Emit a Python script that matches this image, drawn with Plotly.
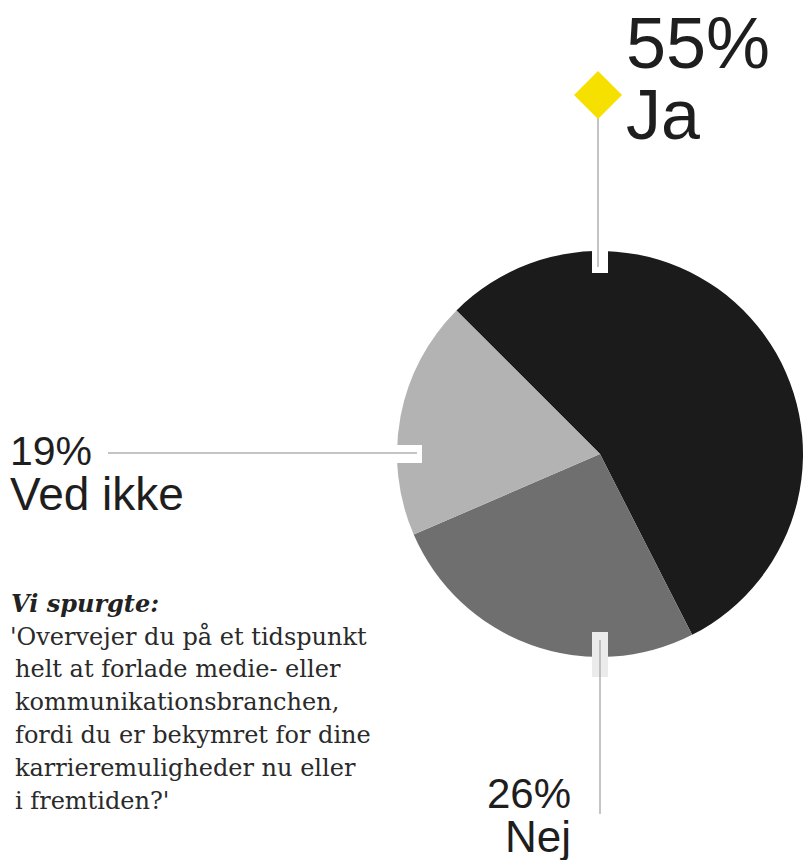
import plotly.graph_objects as go

W, H = 803, 860

labels = ["Ja", "Nej", "Ved ikke"]
values = [55, 26, 19]
pct_labels = ["55%", "26%", "19%"]
colors = ["#1b1b1b", "#6f6f6f", "#b3b3b3"]

question_title = "Vi spurgte:"
question_lines = [
    "'Overvejer du på et tidspunkt",
    "helt at forlade medie- eller",
    "kommunikationsbranchen,",
    "fordi du er bekymret for dine",
    "karrieremuligheder nu eller",
    "i fremtiden?'",
]

# pie geometry (pixels)
cx, cy, r = 600, 454, 203

fig = go.Figure()
fig.add_trace(go.Pie(
    labels=labels, values=values, sort=False, direction="clockwise",
    rotation=-45, marker=dict(colors=colors, line=dict(width=0)),
    textinfo="none", hoverinfo="label+percent", showlegend=False,
    domain=dict(x=[(cx - r) / W, min(1.0, (cx + r) / W)],
                y=[1 - (cy + r) / H, 1 - (cy - r) / H]),
))

LINE = "#b0b0b0"
shapes = []
# top notch + leader (Ja)
tx = cx - 2
shapes.append(dict(type="rect", x0=cx - 8, x1=cx + 8, y0=cy - r - 3, y1=cy - r + 22,
                   fillcolor="white", line=dict(width=0), layer="above"))
shapes.append(dict(type="line", x0=tx, x1=tx, y0=95, y1=cy - r + 16,
                   line=dict(color=LINE, width=1.5), layer="above"))
d = 24
shapes.append(dict(type="path",
                   path=f"M {tx},{95 - d} L {tx + d},95 L {tx},{95 + d} L {tx - d},95 Z",
                   fillcolor="#f6e000", line=dict(width=0), layer="above"))
# left notch + leader (Ved ikke)
shapes.append(dict(type="rect", x0=cx - r - 5, x1=cx - r + 25, y0=cy - 9, y1=cy + 9,
                   fillcolor="white", line=dict(width=0), layer="above"))
shapes.append(dict(type="line", x0=108, x1=cx - r + 20, y0=cy - 1, y1=cy - 1,
                   line=dict(color=LINE, width=1.5), layer="above"))
# bottom notch + leader (Nej)
shapes.append(dict(type="rect", x0=cx - 8, x1=cx + 8, y0=cy + r - 25, y1=cy + r + 20,
                   fillcolor="#ebebeb", line=dict(width=0), layer="above"))
shapes.append(dict(type="line", x0=cx, x1=cx, y0=cy + r - 17, y1=814,
                   line=dict(color=LINE, width=1.5), layer="above"))

SANS = "Liberation Sans"
SERIF = "DejaVu Serif"
TXT = "#1e1e1e"
ann = []
def A(text, x, y, size, xanchor="left", family=SANS, color=TXT, **kw):
    ann.append(dict(text=text, x=x, y=y, xref="x", yref="y", showarrow=False,
                    xanchor=xanchor, yanchor="middle",
                    font=dict(family=family, size=size, color=color), **kw))

A(pct_labels[0], 624, 43, 72)
A(labels[0], 624, 115, 70)
A(pct_labels[2], 8, 451, 41)
A(labels[2], 8, 494, 46)
A(pct_labels[1], 573, 793, 42, xanchor="right")
A(labels[1], 573, 836, 44, xanchor="right")

A("<b><i>" + question_title + "</i></b>", 9, 603, 24, family=SERIF, color="#222222")
for i, line in enumerate(question_lines):
    A(line, 8 if i == 0 else 13, 636 + 33 * i, 24, family=SERIF, color="#2a2a2a")

fig.update_layout(
    width=W, height=H, margin=dict(l=0, r=0, t=0, b=0),
    paper_bgcolor="white", plot_bgcolor="rgba(0,0,0,0)",
    xaxis=dict(range=[0, W], visible=False, fixedrange=True),
    yaxis=dict(range=[H, 0], visible=False, fixedrange=True),
    shapes=shapes, annotations=ann,
)
fig.write_html("out.html", config={"displayModeBar": False},
               post_script="document.body.style.margin='0px';document.body.style.overflow='hidden';")
